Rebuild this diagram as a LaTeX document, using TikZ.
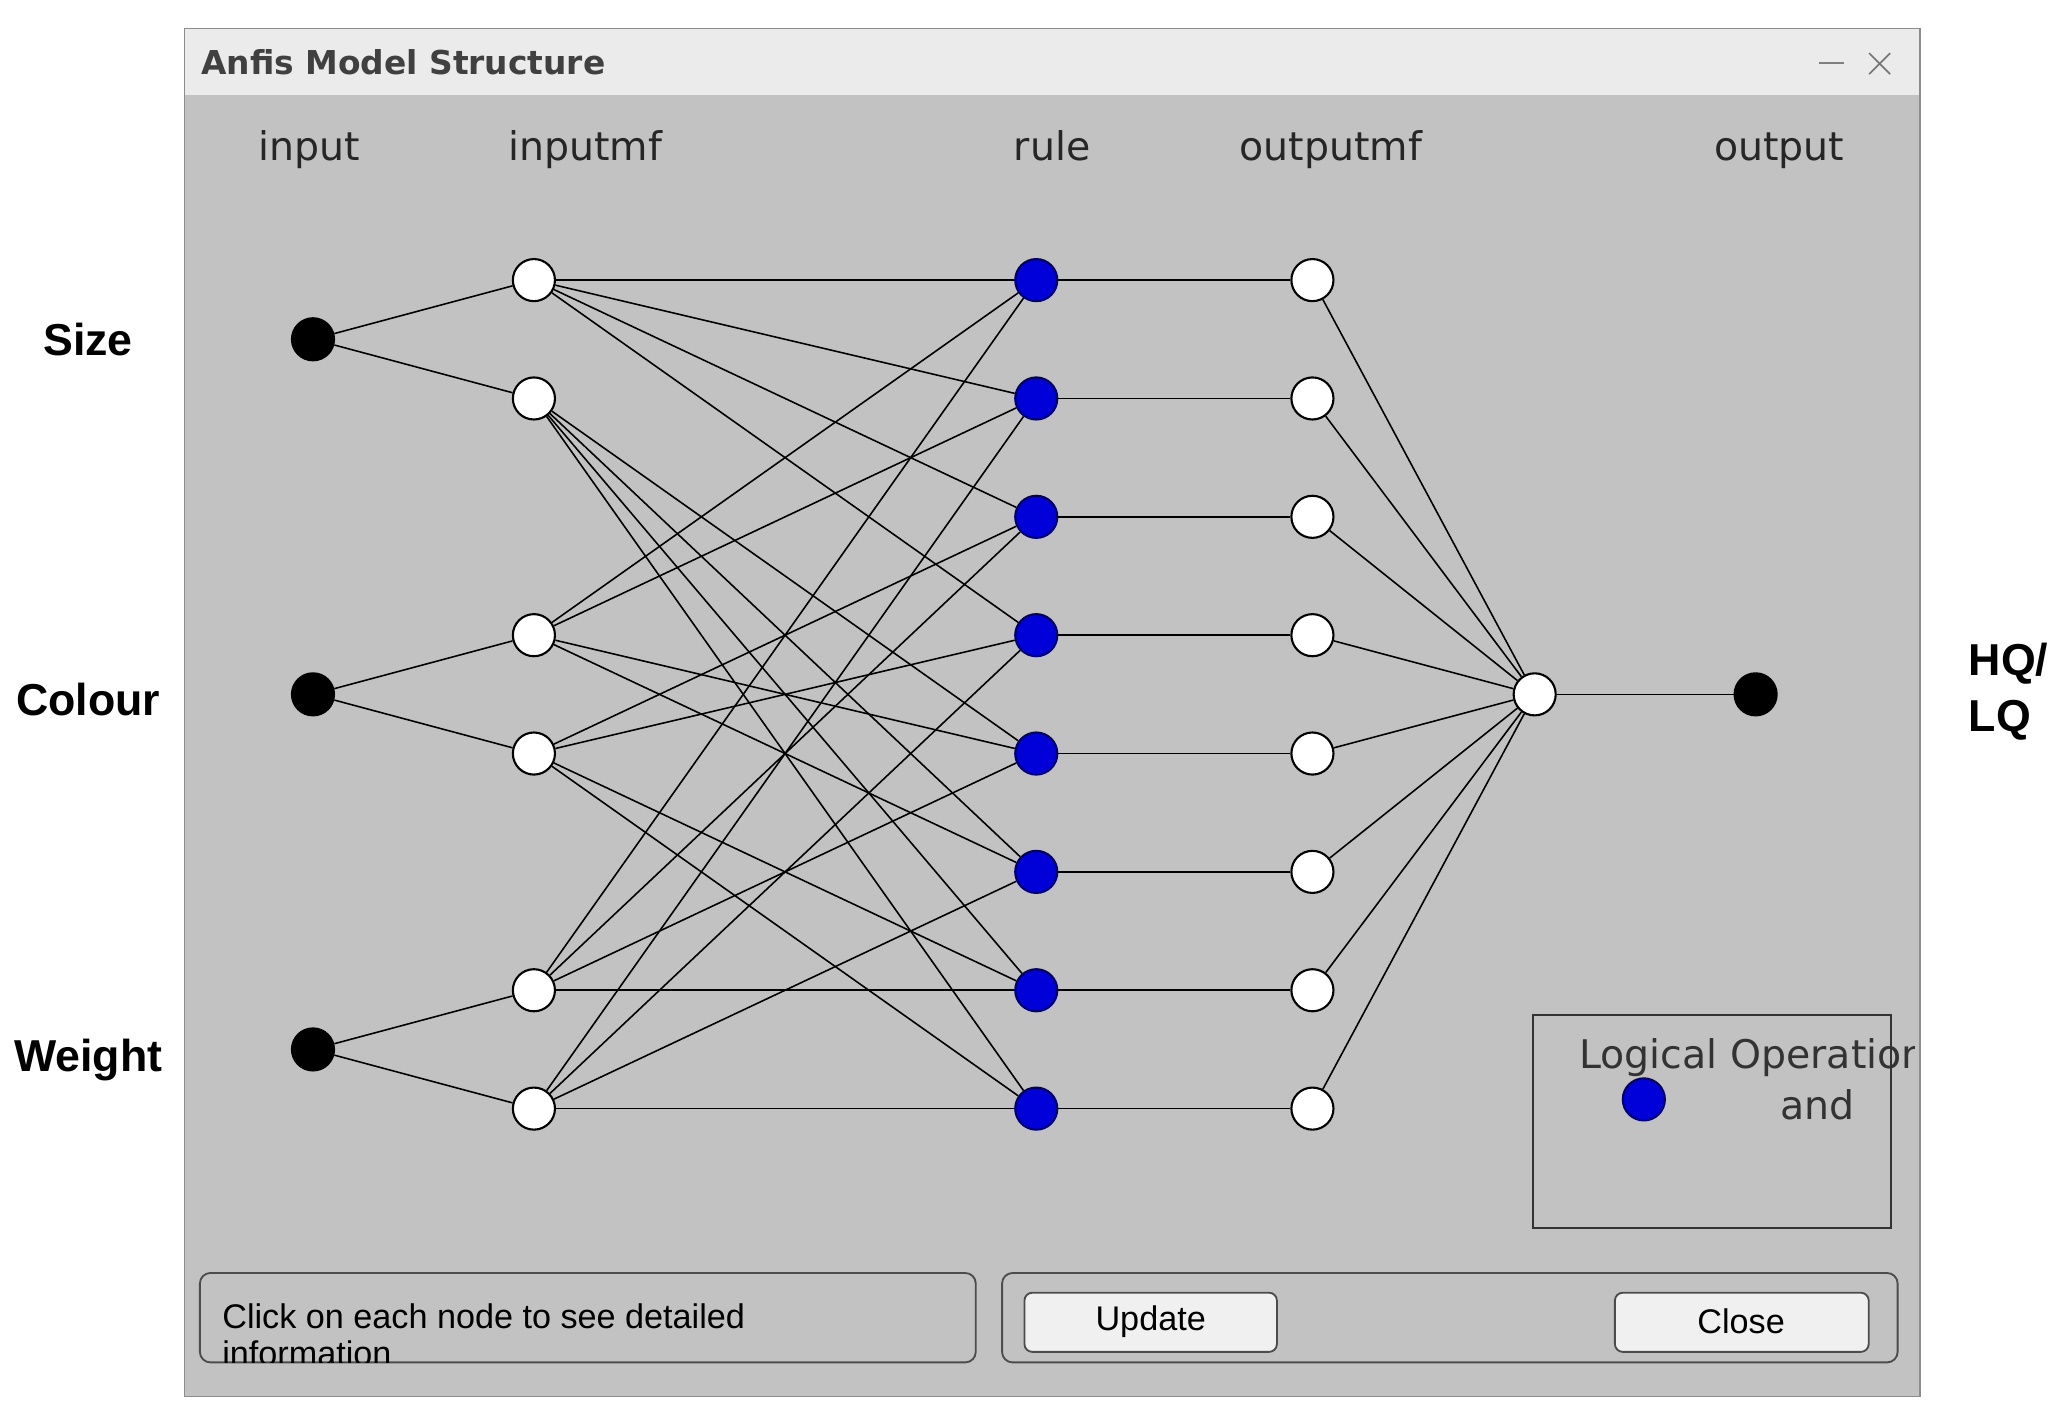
\documentclass[tikz,border=0pt]{standalone}
\usepackage{fontspec}
\setmainfont{DejaVu Sans}
\newfontfamily\lib{Liberation Sans}
\begin{document}
\begin{tikzpicture}[x=0.5pt,y=-0.5pt,
  nd/.style={circle,draw=black,line width=0.8pt,minimum size=16pt,inner sep=0pt},
  wn/.style={nd,fill=white},
  bn/.style={nd,fill=black},
  rn/.style={nd,fill=blue!85!black,draw=blue!40!black},
  ln/.style={line width=0.6pt},
  hd/.style={font=\fontsize{15}{17}\selectfont,text=black!85,anchor=base},
  lab/.style={font=\lib\bfseries\fontsize{17}{19}\selectfont},
  btn/.style={draw=black!70,rounded corners=3pt,fill=black!6,line width=0.7pt}]
\useasboundingbox (0,0) rectangle (1568,1082);
\fill[white] (0,0) rectangle (1568,1082);
\fill[black!24] (140,22) rectangle (1460,1062);
\fill[black!8] (140,22) rectangle (1460,72);
\draw[black!45] (140,22) rectangle (1460,1062);
\node[anchor=west,font=\bfseries\fontsize{12.5}{15}\selectfont,text=black!75] (title) at (146,47) {Anfis Model Structure};
\draw[black!50,line width=1pt] (1383,48) -- (1402,48);
\node[font=\bfseries\fontsize{17}{17}\selectfont,text=black!55] (cx) at (1430,49) {$\times$};
\node[hd] (h1) at (235,122) {input};
\node[hd] (h2) at (445,122) {inputmf};
\node[hd] (h3) at (800,122) {rule};
\node[hd] (h4) at (1012,122) {outputmf};
\node[hd] (h5) at (1353,122) {output};
\node[lab] (L1) at (67,258) {Size};
\node[lab] (L2) at (67,532) {Colour};
\node[lab] (L3) at (67,806) {Weight};
\node[lab,anchor=west] (L4) at (1490,505) {HQ/};
\node[lab,anchor=west] (L5) at (1490,548) {LQ};
\foreach \i/\y in {1/258,2/528,3/798} \node[bn] (in\i) at (238,\y) {};
\foreach \i/\y in {1/213,2/303,3/483,4/573,5/753,6/843} \node[wn] (mf\i) at (406,\y) {};
\foreach \i/\y in {1/213,2/303,3/393,4/483,5/573,6/663,7/753,8/843} {
  \node[rn] (r\i) at (788,\y) {};
  \node[wn] (o\i) at (998,\y) {};
}
\node[wn] (agg) at (1167,528) {};
\node[bn] (out) at (1335,528) {};
\draw[ln] (in1)--(mf1) (in1)--(mf2) (in2)--(mf3) (in2)--(mf4) (in3)--(mf5) (in3)--(mf6);
\foreach \r in {1,2,3,4} \draw[ln] (mf1)--(r\r);
\foreach \r in {5,6,7,8} \draw[ln] (mf2)--(r\r);
\foreach \r in {1,2,5,6} \draw[ln] (mf3)--(r\r);
\foreach \r in {3,4,7,8} \draw[ln] (mf4)--(r\r);
\foreach \r in {1,3,5,7} \draw[ln] (mf5)--(r\r);
\foreach \r in {2,4,6,8} \draw[ln] (mf6)--(r\r);
\foreach \r in {1,...,8} {\draw[ln] (r\r)--(o\r); \draw[ln] (o\r)--(agg);}
\draw[ln] (agg)--(out);
\draw[black!80,line width=0.7pt] (1166,772) rectangle (1438,934);
\begin{scope}
\clip (1166,772) rectangle (1456,934);
\node[anchor=west,font=\fontsize{15}{17}\selectfont,text=black!80] (lg) at (1194,804) {Logical Operation};
\end{scope}
\node[rn] (lgd) at (1250,836) {};
\node[font=\fontsize{15}{17}\selectfont,text=black!80] (and) at (1382,840) {and};
\draw[black!70,rounded corners=4pt,line width=0.7pt] (152,968) rectangle (742,1036);
\begin{scope}
\clip (152,968) rectangle (742,1036);
\node[anchor=west,font=\lib\fontsize{13}{15}\selectfont] (c1) at (162,1001) {Click on each node to see detailed};
\node[anchor=west,font=\lib\fontsize{13}{15}\selectfont] (c2) at (162,1029) {information};
\end{scope}
\draw[black!70,rounded corners=4pt,line width=0.7pt] (762,968) rectangle (1443,1036);
\draw[btn] (779,983) rectangle (971,1028);
\node[font=\lib\fontsize{13}{15}\selectfont] (b1) at (875,1005) {Update};
\draw[btn] (1228,983) rectangle (1421,1028);
\node[font=\lib\fontsize{13}{15}\selectfont] (b2) at (1324,1005) {Close};
\end{tikzpicture}
\end{document}
